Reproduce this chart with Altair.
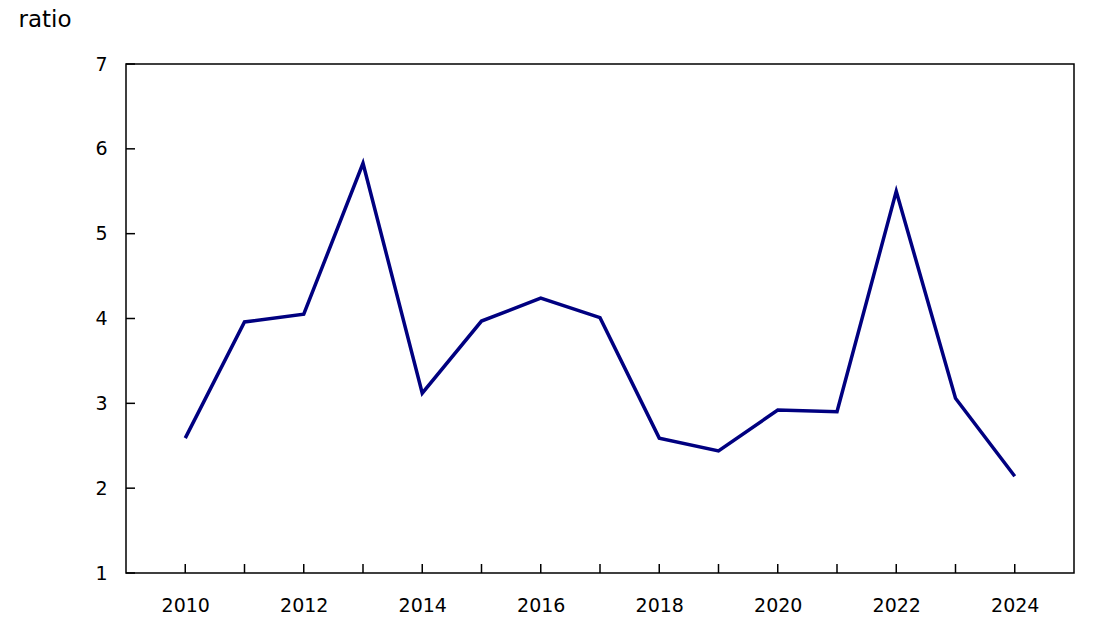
import altair as alt
import pandas as pd

years = list(range(2010, 2025))
ratio = [2.59, 3.96, 4.05, 5.83, 3.12, 3.97, 4.24, 4.01, 2.59, 2.44, 2.92, 2.90, 5.50, 3.06, 2.14]
y_ticks = [1, 2, 3, 4, 5, 6, 7]
x_labels = [2010, 2012, 2014, 2016, 2018, 2020, 2022, 2024]

W, H = 948, 509
FONT = "DejaVu Sans"

df = pd.DataFrame({"year": years, "ratio": ratio})
xtick_df = pd.DataFrame({"year": years})
ytick_df = pd.DataFrame({"ratio": y_ticks})

x_scale = alt.Scale(domain=[2009, 2025], nice=False, zero=False)
y_scale = alt.Scale(domain=[1, 7], nice=False, zero=False)

x_axis = alt.Axis(values=x_labels, format="d", title=None, ticks=False,
                  domain=False, grid=False, labelFont=FONT, labelFontSize=19,
                  labelColor="#000", labelBaseline="middle", labelPadding=32)
y_axis = alt.Axis(values=y_ticks, format="d", title="ratio", titleAngle=0,
                  titleAlign="left", titleBaseline="alphabetic", titleX=-108,
                  titleY=-38, titleFont=FONT, titleFontSize=23,
                  titleFontWeight="normal", titleColor="#000", ticks=False,
                  domain=False, grid=False, labelFont=FONT, labelFontSize=19,
                  labelColor="#000", labelPadding=19)

line = alt.Chart(df).mark_line(color="#000080", strokeWidth=3.5).encode(
    x=alt.X("year:Q", scale=x_scale, axis=x_axis),
    y=alt.Y("ratio:Q", scale=y_scale, axis=y_axis),
)

# inward ticks on the x axis
xticks = alt.Chart(xtick_df).mark_rule(color="#000", strokeWidth=1.5).encode(
    x=alt.X("year:Q", scale=x_scale, axis=x_axis),
    y=alt.value(H),
    y2=alt.value(H - 9),
)

# inward ticks on the y axis
yticks = alt.Chart(ytick_df).mark_rule(color="#000", strokeWidth=1.5).encode(
    y=alt.Y("ratio:Q", scale=y_scale, axis=y_axis),
    x=alt.value(0),
    x2=alt.value(9),
)

chart = alt.layer(line, xticks, yticks).properties(
    width=W, height=H,
    autosize=alt.AutoSizeParams(type="none"),
    padding={"left": 118, "top": 56, "right": 20, "bottom": 50},
).configure(background="white").configure_view(stroke="#000", strokeWidth=1.5)

chart.save("out.html", embed_options={"renderer": "svg", "actions": False})
